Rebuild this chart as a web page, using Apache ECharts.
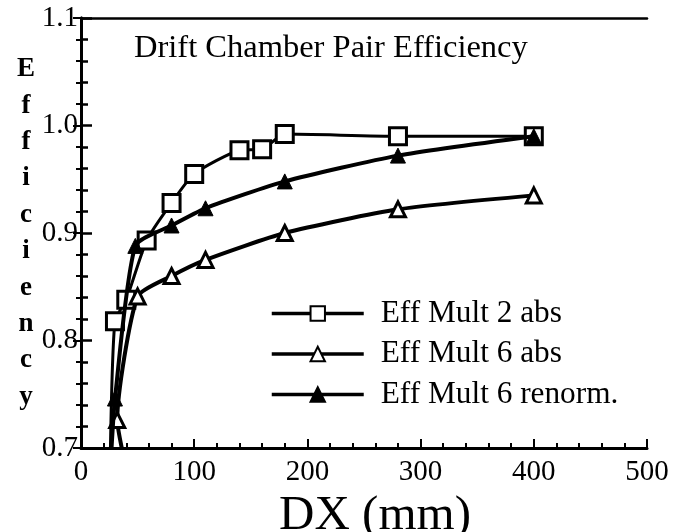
<!DOCTYPE html>
<html>
<head>
<meta charset="utf-8">
<script src="https://cdn.jsdelivr.net/npm/echarts@6/dist/echarts.min.js"></script>
<style>
  html, body { margin: 0; padding: 0; background: #fff; }
  #chart { width: 682px; height: 532px; }
</style>
</head>
<body>
<div id="chart"></div>
<script>
// DX (mm) and pair efficiency for each configuration
const mult2AbsDX   = [26, 30, 40, 58, 80, 100, 140, 160, 180, 280, 400];
const mult2AbsEff  = [0.700, 0.818, 0.838, 0.893, 0.928, 0.955, 0.977, 0.978, 0.992, 0.990, 0.990];

const mult6AbsDX   = [36, 32, 50, 80, 110, 180, 280, 400];
const mult6AbsEff  = [0.700, 0.726, 0.841, 0.860, 0.875, 0.900, 0.922, 0.935];

const mult6RenDX   = [27, 30, 48, 80, 110, 180, 280, 400];
const mult6RenEff  = [0.700, 0.746, 0.888, 0.907, 0.923, 0.948, 0.972, 0.990];

const seriesNames  = ['Eff Mult 2 abs', 'Eff Mult 6 abs', 'Eff Mult 6 renorm.'];
const xTicks       = [0, 100, 200, 300, 400, 500];
const yTicks       = [0.7, 0.8, 0.9, 1.0, 1.1];

const serif = '"Liberation Serif", "DejaVu Serif", serif';

// first point of each curve runs into the bottom axis: no marker there
function toPoints(xs, ys) {
  return xs.map((x, i) => i === 0 ? { value: [x, ys[i]], symbol: 'none' } : [x, ys[i]]);
}

const chart = echarts.init(document.getElementById('chart'), null, { renderer: 'canvas' });

const axisLine = { show: true, lineStyle: { color: '#000', width: 3 } };

chart.setOption({
  animation: false,
  backgroundColor: '#fff',
  title: {
    text: 'Drift Chamber Pair Efficiency',
    left: 129,
    top: 27,
    textStyle: { fontFamily: serif, fontSize: 32.5, fontWeight: 'normal', color: '#000' }
  },
  grid: { left: 81, right: 35, top: 18, bottom: 84, containLabel: false, outerBoundsMode: 'none' },
  legend: {
    orient: 'vertical',
    left: 265,
    top: 293,
    itemWidth: 92,
    itemHeight: 18,
    itemGap: 9.5,
    data: seriesNames,
    lineStyle: { width: 3.5, color: '#000' },
    textStyle: { fontFamily: serif, fontSize: 31.3, color: '#000', lineHeight: 31, padding: [0, 0, 0, 12] }
  },
  xAxis: [{
    type: 'value',
    min: xTicks[0],
    max: xTicks[xTicks.length - 1],
    interval: 100,
    name: 'DX (mm)',
    nameLocation: 'middle',
    nameGap: 27,
    nameTextStyle: { fontFamily: serif, fontSize: 49, color: '#000', padding: [0, 0, 0, 22] },
    axisLine: axisLine,
    axisTick: { show: true, inside: true, length: 9, lineStyle: { color: '#000', width: 2 } },
    minorTick: { show: true, splitNumber: 5, length: 5, lineStyle: { color: '#000', width: 2 } },
    splitLine: { show: false },
    axisLabel: { fontFamily: serif, fontSize: 29, color: '#000', margin: 10 }
  }, {
    type: 'value',
    position: 'top',
    min: xTicks[0],
    max: xTicks[xTicks.length - 1],
    interval: 100,
    axisLine: { show: true, lineStyle: { color: '#000', width: 2.5 } },
    axisTick: { show: false },
    axisLabel: { show: false },
    splitLine: { show: false }
  }],
  yAxis: [{
    type: 'value',
    min: yTicks[0],
    max: yTicks[yTicks.length - 1],
    interval: 0.1,
    name: 'E\nf\nf\ni\nc\ni\ne\nn\nc\ny',
    nameLocation: 'middle',
    nameRotate: 0,
    nameGap: 55,
    nameTextStyle: {
      fontFamily: serif, fontSize: 27, fontWeight: 'bold', color: '#000',
      lineHeight: 36.4, align: 'center', verticalAlign: 'middle',
      padding: [20, 0, 0, 0]
    },
    axisLine: axisLine,
    axisTick: { show: true, inside: true, length: 11, lineStyle: { color: '#000', width: 2.5 } },
    minorTick: { show: true, splitNumber: 5, length: 7, lineStyle: { color: '#000', width: 2.5 } },
    splitLine: { show: false },
    axisLabel: {
      fontFamily: serif, fontSize: 29, color: '#000', margin: 3,
      padding: [12, 0, 0, 0],
      formatter: v => v.toFixed(1)
    }
  }, {
    type: 'value',
    position: 'right',
    min: yTicks[0],
    max: yTicks[yTicks.length - 1],
    interval: 0.1,
    axisLine: axisLine,
    axisTick: { show: true, inside: true, length: 8, lineStyle: { color: '#000', width: 2 } },
    minorTick: { show: true, splitNumber: 5, length: 5, lineStyle: { color: '#000', width: 2 } },
    axisLabel: { show: false },
    splitLine: { show: false }
  }],
  series: [{
    name: seriesNames[0],
    type: 'line',
    smooth: 0.2,
    data: toPoints(mult2AbsDX, mult2AbsEff),
    symbol: 'rect',
    symbolSize: 17,
    lineStyle: { color: '#000', width: 3 },
    itemStyle: { color: '#fff', borderColor: '#000', borderWidth: 3 },
    z: 3
  }, {
    name: seriesNames[1],
    type: 'line',
    smooth: 0.2,
    data: toPoints(mult6AbsDX, mult6AbsEff),
    symbol: 'triangle',
    symbolSize: 15,
    lineStyle: { color: '#000', width: 4 },
    itemStyle: { color: '#fff', borderColor: '#000', borderWidth: 3 },
    z: 4
  }, {
    name: seriesNames[2],
    type: 'line',
    smooth: 0.2,
    data: toPoints(mult6RenDX, mult6RenEff),
    symbol: 'triangle',
    symbolSize: 15,
    lineStyle: { color: '#000', width: 4 },
    itemStyle: { color: '#000', borderColor: '#000', borderWidth: 1 },
    z: 5
  }]
});
</script>
</body>
</html>
